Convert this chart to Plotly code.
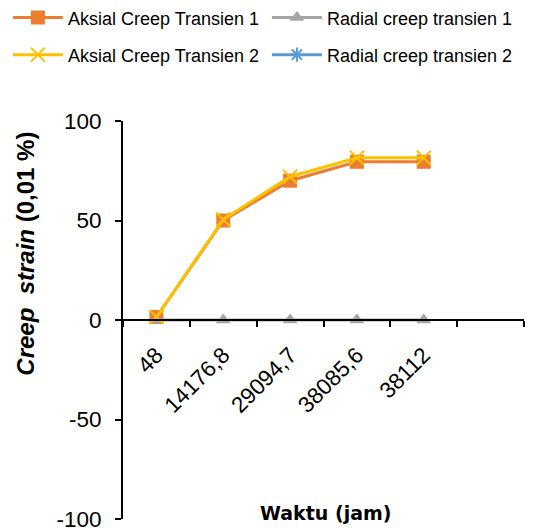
import plotly.graph_objects as go

# data
waktu = ["48", "14176,8", "29094,7", "38085,6", "38112"]
aksial_1 = [1.5, 50, 70, 79.5, 79.5]
aksial_2 = [1.5, 50.5, 72, 81.5, 81.5]
radial_1 = [0, 0, 0, 0, 0]
radial_2 = [None, None, None, None, None]  # no visible points in the reference
y_ticks = [-100, -50, 0, 50, 100]
y_ticktext = ["-100", "-50", "0", "50", "100"]

FONT = "Liberation Sans, Arial, sans-serif"

fig = go.Figure()

fig.add_trace(go.Scatter(
    x=waktu, y=aksial_1, name="Aksial Creep Transien 1", mode="lines+markers",
    line=dict(color="#ED7D31", width=3),
    marker=dict(symbol="square", size=14, color="#ED7D31"),
    legend="legend",
))
fig.add_trace(go.Scatter(
    x=waktu, y=radial_1, name="Radial creep transien 1", mode="lines+markers",
    line=dict(color="#A5A5A5", width=3),
    marker=dict(symbol="triangle-up", size=13, color="#A5A5A5"),
    legend="legend",
))
fig.add_trace(go.Scatter(
    x=waktu, y=aksial_2, name="Aksial Creep Transien 2", mode="lines+markers",
    line=dict(color="#FFC000", width=3),
    marker=dict(symbol="x-thin", size=14, line=dict(color="#FFC000", width=2)),
    legend="legend2",
))
fig.add_trace(go.Scatter(
    x=waktu, y=radial_2, name="Radial creep transien 2", mode="lines+markers",
    line=dict(color="#5B9BD5", width=3),
    marker=dict(symbol="asterisk-open", size=12, line=dict(color="#5B9BD5", width=2)),
    legend="legend2",
))

legend_style = dict(
    orientation="h", xanchor="left", yanchor="middle",
    font=dict(family=FONT, size=18, color="#000000"),
    itemwidth=50, entrywidth=194, entrywidthmode="pixels",
    bgcolor="rgba(0,0,0,0)", traceorder="normal",
)

# the page body has an 8px margin, so the figure is drawn 8px smaller
fig.update_layout(
    width=533, height=523,
    margin=dict(l=115, r=17, t=113, b=12, autoexpand=False),
    plot_bgcolor="white", paper_bgcolor="white",
    font=dict(family=FONT, color="#000000"),
    legend=dict(x=-0.287, y=1.259, **legend_style),
    legend2=dict(x=-0.287, y=1.166, **legend_style),
    xaxis=dict(
        type="category", categoryorder="array", categoryarray=waktu + [" "],
        range=[-0.5, 5.5], anchor="free", position=0.5,
        showline=True, linecolor="black", linewidth=2,
        ticks="outside", tickson="boundaries", ticklen=6, tickwidth=2, tickcolor="black",
        tickangle=-45, ticklabelstandoff=12,
        tickfont=dict(family=FONT, size=22.5, color="black"),
        showgrid=False, zeroline=False, automargin=False,
    ),
    yaxis=dict(
        range=[-100, 100], tickvals=y_ticks, ticktext=y_ticktext,
        showline=True, linecolor="black", linewidth=2,
        ticks="outside", ticklen=6, tickwidth=2, tickcolor="black",
        ticklabelstandoff=9, ticklabeloverflow="allow",
        tickfont=dict(family=FONT, size=22.5, color="black"),
        showgrid=False, zeroline=False, automargin=False,
    ),
    annotations=[
        dict(text="<b>Waktu (jam)</b>", xref="paper", yref="paper",
             x=0.504, y=0.015, showarrow=False, xanchor="center", yanchor="middle",
             font=dict(family="DejaVu Sans, sans-serif", size=19, color="black")),
        dict(text="<b><i>Creep  strain</i> (0,01 %)</b>", xref="paper", yref="paper",
             x=-0.244, y=0.667, textangle=-90, showarrow=False,
             xanchor="center", yanchor="middle",
             font=dict(family=FONT, size=24, color="black")),
    ],
)

fig.write_html("out.html")
